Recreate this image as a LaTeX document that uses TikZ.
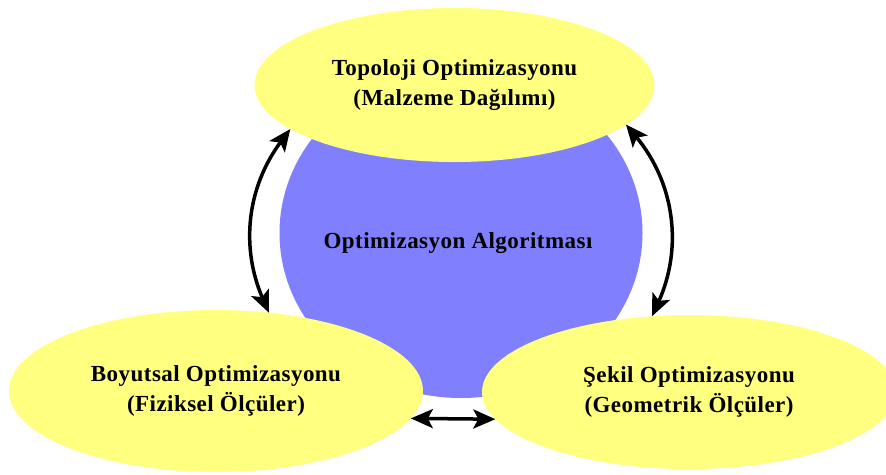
\documentclass[tikz,border=0pt]{standalone}
\usepackage{fontspec}
\setmainfont{Liberation Serif}
\usetikzlibrary{shapes.geometric,arrows.meta}
\definecolor{ylw}{RGB}{255,255,128}
\definecolor{blu}{RGB}{128,128,255}
\newcommand{\diagfont}{\fontsize{23}{30}\selectfont\bfseries\addfontfeature{LetterSpace=2}}
\begin{document}
\begin{tikzpicture}[x=1pt,y=-1pt,
  bubble/.style={ellipse, fill=ylw, inner sep=0pt, outer sep=0pt, align=center,
    font=\diagfont},
  core/.style={ellipse, fill=blu, inner sep=0pt, outer sep=0pt},
  lbl/.style={align=center, font=\diagfont},
  tip/.tip={Stealth[length=22pt,width=19pt,inset=5pt]},
  link/.style={line width=3.5pt, tip-tip}]
\useasboundingbox (0,0) rectangle (886,474);
\clip (0,0) rectangle (886,474);
\node[core, minimum width=363pt, minimum height=330pt] (alg) at (461,233) {};
\node[lbl] (algtext) at (458,243) {Optimizasyon Algoritması};
\node[bubble, minimum width=400pt, minimum height=154pt] (topo) at (454.5,85)
  {Topoloji Optimizasyonu\\(Malzeme Dağılımı)};
\node[bubble, minimum width=414pt, minimum height=162pt] (boy) at (216,391)
  {Boyutsal Optimizasyonu\\(Fiziksel Ölçüler)};
\node[bubble, minimum width=414pt, minimum height=154pt] (sek) at (689,392)
  {Şekil Optimizasyonu\\(Geometrik Ölçüler)};
\draw[link] (topo.195.5) to[bend right=30] (boy.56.8);
\draw[link] (topo.-13.4) to[bend left=32] (sek.116.3);
\draw[link] (boy.-8) -- (sek.188.4);
\end{tikzpicture}
\end{document}
